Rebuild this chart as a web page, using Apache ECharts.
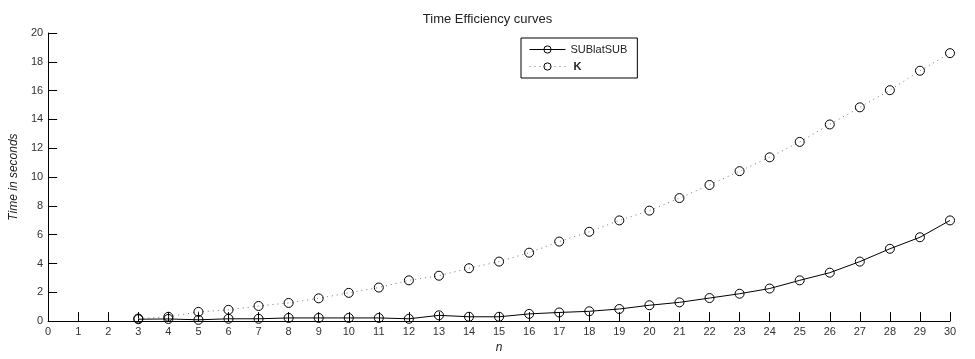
<!DOCTYPE html>
<html><head><meta charset="utf-8">
<script src="https://cdn.jsdelivr.net/npm/echarts@6/dist/echarts.min.js"></script>
<style>html,body{margin:0;padding:0;background:#fff}#c{width:975px;height:359px}</style>
</head><body><div id="c"></div>
<script>
const nValues = [3,4,5,6,7,8,9,10,11,12,13,14,15,16,17,18,19,20,21,22,23,24,25,26,27,28,29,30];
const subValues = [0.13,0.15,0.09,0.16,0.16,0.22,0.22,0.22,0.22,0.16,0.40,0.30,0.30,0.50,0.60,0.68,0.84,1.10,1.30,1.60,1.90,2.26,2.83,3.36,4.13,5.02,5.82,6.99];
const kValues = [0.18,0.30,0.64,0.78,1.05,1.26,1.58,1.96,2.33,2.83,3.15,3.67,4.13,4.75,5.52,6.20,6.99,7.67,8.54,9.45,10.41,11.37,12.44,13.65,14.84,16.03,17.38,18.60];
const seriesNames = ['SUBlatSUB','K'];
const titleText = 'Time Efficiency curves';
const xName = 'n';
const yName = 'Time in seconds';

const font = 'Liberation Sans, Arial, sans-serif';
const chart = echarts.init(document.getElementById('c'));
chart.setOption({
  animation:false,
  backgroundColor:'#fff',
  title:{text:titleText,left:'center',top:8,textStyle:{fontFamily:font,fontSize:13,fontWeight:'normal',color:'#222'}},
  grid:{left:43,right:25,top:33,bottom:34,containLabel:false},
  legend:{
    orient:'vertical',left:521,top:38,
    data:seriesNames,
    borderColor:'#000',borderWidth:1,
    padding:[6,10,6,8],itemGap:6,itemWidth:36,itemHeight:9,itemSymbolSize:8,
    itemStyle:{borderWidth:1,color:'rgba(0,0,0,0)',borderColor:'#000'},
    lineStyle:{width:1},
    formatter:function(n){return n==='K'?' {b|K}':n;},
    textStyle:{fontFamily:font,fontSize:11,color:'#222',rich:{b:{fontWeight:'bold',fontFamily:font,fontSize:11,color:'#222'}}}
  },
  xAxis:{
    type:'value',min:0,max:30,interval:1,
    name:xName,nameLocation:'middle',nameGap:20,
    nameTextStyle:{fontFamily:font,fontSize:12,fontStyle:'italic',color:'#222'},
    axisLine:{lineStyle:{color:'#000',width:1}},
    axisTick:{inside:true,length:9,lineStyle:{color:'#000'}},
    axisLabel:{fontFamily:font,fontSize:11,color:'#333',margin:5},
    splitLine:{show:false}
  },
  yAxis:{
    type:'value',min:0,max:20,interval:2,
    name:yName,nameLocation:'middle',nameGap:28,
    nameTextStyle:{fontFamily:font,fontSize:12,fontStyle:'italic',color:'#222'},
    axisLine:{show:true,lineStyle:{color:'#000',width:1}},
    axisTick:{show:true,inside:true,length:9,lineStyle:{color:'#000'}},
    axisLabel:{fontFamily:font,fontSize:11,color:'#333',margin:5},
    splitLine:{show:false}
  },
  series:[
    {name:seriesNames[0],type:'line',data:nValues.map((n,i)=>[n,subValues[i]]),
     symbol:'circle',symbolSize:9,
     itemStyle:{color:'rgba(0,0,0,0)',borderColor:'#000',borderWidth:1},
     lineStyle:{color:'#000',width:1},z:3},
    {name:seriesNames[1],type:'line',data:nValues.map((n,i)=>[n,kValues[i]]),
     symbol:'circle',symbolSize:9,
     itemStyle:{color:'rgba(0,0,0,0)',borderColor:'#000',borderWidth:1},
     lineStyle:{color:'#777',width:1,type:[1,4]},z:3}
  ]
});
</script></body></html>
